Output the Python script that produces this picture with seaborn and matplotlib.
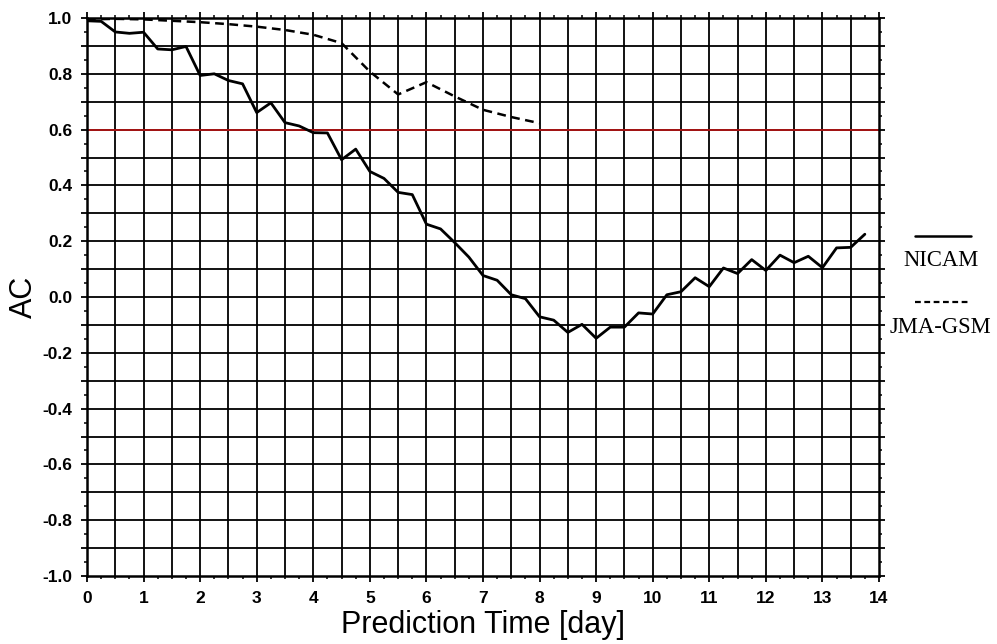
import numpy as np
import pandas as pd
import matplotlib
matplotlib.use("Agg")
import matplotlib.pyplot as plt
from matplotlib.lines import Line2D
from matplotlib.ticker import MultipleLocator, FuncFormatter
import seaborn as sns

# Anomaly correlation vs. forecast lead time
nicam_days = np.arange(0, 14.0, 0.25)
nicam_ac = [
    0.990, 0.988, 0.950, 0.945, 0.949, 0.889, 0.886, 0.898,
    0.794, 0.800, 0.776, 0.764, 0.661, 0.696, 0.625, 0.613,
    0.589, 0.588, 0.492, 0.530, 0.450, 0.425, 0.375, 0.367,
    0.261, 0.244, 0.195, 0.143, 0.077, 0.060, 0.008, -0.006,
    -0.071, -0.083, -0.127, -0.098, -0.148, -0.108, -0.108, -0.057,
    -0.061, 0.008, 0.019, 0.069, 0.037, 0.104, 0.084, 0.134,
    0.095, 0.150, 0.123, 0.146, 0.105, 0.176, 0.178, 0.225,
]
jma_days = np.arange(0, 8.01, 0.5)
jma_ac = [
    0.995, 0.997, 0.995, 0.990, 0.985, 0.978, 0.969, 0.957,
    0.940, 0.910, 0.808, 0.726, 0.770, 0.719, 0.671, 0.645, 0.623,
]
threshold = 0.6

x_ticks = list(range(0, 15))
y_tick_labels = ["-1.0", "-0.8", "-0.6", "-0.4", "-0.2", "0.0",
                 "0.2", "0.4", "0.6", "0.8", "1.0"]

df = pd.concat([
    pd.DataFrame({"day": nicam_days, "AC": nicam_ac, "model": "NICAM"}),
    pd.DataFrame({"day": jma_days, "AC": jma_ac, "model": "JMA-GSM"}),
])

sns.set_style("white")
plt.rcParams["font.family"] = ["Liberation Sans", "DejaVu Sans"]
plt.rcParams.update({"text.color": "black", "axes.labelcolor": "black",
                     "xtick.color": "black", "ytick.color": "black"})

fig = plt.figure(figsize=(9.97, 6.44), dpi=100)
ax = fig.add_axes([87 / 997, 1 - 576 / 644, (879 - 87) / 997, (576 - 18) / 644])

ax.set_xlim(0, 14)
ax.set_ylim(-1.0, 1.0)

# grid: every half day and every 0.1 of correlation
for gx in np.arange(0.5, 14.0, 0.5):
    ax.axvline(gx, color="black", lw=1.3, zorder=1)
for gy in np.arange(-0.9, 1.0, 0.1):
    ax.axhline(gy, color="black", lw=1.3, zorder=1)

ax.axhline(threshold, color="#a51414", lw=1.4, zorder=2)

sns.lineplot(data=df[df.model == "NICAM"], x="day", y="AC", ax=ax,
             color="black", lw=2.0, zorder=3, legend=False)
sns.lineplot(data=df[df.model == "JMA-GSM"], x="day", y="AC", ax=ax,
             color="black", lw=1.8, zorder=3, legend=False,
             dashes=False)
ax.lines[-1].set_dashes((3.5, 2.2))

for s in ax.spines.values():
    s.set_linewidth(1.8)
    s.set_color("black")
    s.set_zorder(4)

ax.xaxis.set_major_locator(MultipleLocator(1))
ax.xaxis.set_minor_locator(MultipleLocator(0.25))
ax.yaxis.set_major_locator(MultipleLocator(0.1))
ax.yaxis.set_minor_locator(MultipleLocator(0.05))
ax.set_xticks(x_ticks)
ax.set_xticklabels([str(t) for t in x_ticks])
lab_map = {round(-1.0 + 0.2 * i, 1): t for i, t in enumerate(y_tick_labels)}
ax.yaxis.set_major_formatter(FuncFormatter(
    lambda v, p: lab_map.get(round(v, 1), "")))

ax.tick_params(which="both", direction="out", top=True, right=True,
               bottom=True, left=True, color="black", labelcolor="black")
ax.tick_params(which="major", length=4.5, width=1.3, labelsize=12.5, pad=6)
ax.tick_params(which="minor", length=2.3, width=1.1)
ax.tick_params(axis="x", which="major", pad=6)
for lab in ax.get_xticklabels() + ax.get_yticklabels():
    lab.set_fontweight("bold")

ax.set_xlabel("Prediction Time [day]", fontsize=22, color="black")
ax.set_ylabel("AC", fontsize=22, color="black")
ax.xaxis.set_label_coords(0.5, -0.061)
ax.yaxis.set_label_coords(-0.061, 0.5)

# legend outside the axes, label beneath each line sample
serif = ["Liberation Serif", "DejaVu Serif"]
ax.add_artist(Line2D([1.045, 1.116], [0.609, 0.609], transform=ax.transAxes,
                     color="black", lw=1.8, clip_on=False))
ax.text(1.078, 0.566, "NICAM", transform=ax.transAxes, ha="center",
        va="center", fontsize=16.3, family=serif, color="black")
ax.add_artist(Line2D([1.045, 1.112], [0.491, 0.491], transform=ax.transAxes,
                     color="black", lw=1.6, dashes=(2.6, 1.6), clip_on=False))
ax.text(1.078, 0.446, "JMA-GSM", transform=ax.transAxes, ha="center",
        va="center", fontsize=16.3, family=serif, color="black")

fig.savefig("out.png", dpi=100)
